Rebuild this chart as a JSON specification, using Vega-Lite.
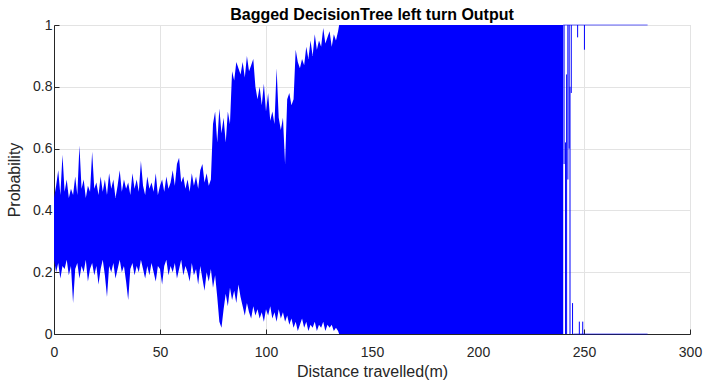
{
  "$schema": "https://vega.github.io/schema/vega-lite/v6.json",
  "width": 636,
  "height": 309,
  "autosize": {"type": "none"},
  "padding": {"left": 54, "top": 25, "right": 16, "bottom": 50},
  "title": {"text": "Bagged DecisionTree left turn Output", "fontSize": 16, "fontWeight": "bold", "font": "Liberation Sans", "color": "#000000", "offset": 4, "dy": 9, "anchor": "middle"},
  "config": {
    "view": {"stroke": "#d9d9d9", "strokeWidth": 1},
    "axis": {
      "domainColor": "#262626", "tickColor": "#262626", "gridColor": "#e3e3e3",
      "labelFont": "Liberation Sans", "labelFontSize": 14, "labelColor": "#262626", "labelFlush": false,
      "titleFont": "Liberation Sans", "titleFontSize": 16, "titleColor": "#262626", "titleFontWeight": "normal",
      "tickSize": -5
    }
  },
  "datasets": {
    "band": [
      {"x":0,"hi":0.44,"lo":0.24},{"x":1,"hi":0.48,"lo":0.20},{"x":2,"hi":0.53,"lo":0.23},{"x":3,"hi":0.45,"lo":0.18},{"x":4,"hi":0.58,"lo":0.22},
      {"x":5,"hi":0.46,"lo":0.21},{"x":6,"hi":0.50,"lo":0.24},{"x":7,"hi":0.44,"lo":0.19},{"x":8,"hi":0.47,"lo":0.22},{"x":9,"hi":0.45,"lo":0.10},
      {"x":10,"hi":0.51,"lo":0.21},{"x":11,"hi":0.45,"lo":0.23},{"x":12,"hi":0.61,"lo":0.18},{"x":13,"hi":0.47,"lo":0.22},{"x":14,"hi":0.50,"lo":0.20},
      {"x":15,"hi":0.44,"lo":0.24},{"x":16,"hi":0.48,"lo":0.17},{"x":17,"hi":0.46,"lo":0.21},{"x":18,"hi":0.59,"lo":0.23},{"x":19,"hi":0.47,"lo":0.19},
      {"x":20,"hi":0.49,"lo":0.22},{"x":21,"hi":0.45,"lo":0.16},{"x":22,"hi":0.51,"lo":0.21},{"x":23,"hi":0.46,"lo":0.24},{"x":24,"hi":0.50,"lo":0.19},
      {"x":25,"hi":0.45,"lo":0.12},{"x":26,"hi":0.52,"lo":0.22},{"x":27,"hi":0.47,"lo":0.20},{"x":28,"hi":0.50,"lo":0.23},{"x":29,"hi":0.44,"lo":0.18},
      {"x":30,"hi":0.48,"lo":0.21},{"x":31,"hi":0.53,"lo":0.24},{"x":32,"hi":0.46,"lo":0.20},{"x":33,"hi":0.50,"lo":0.22},{"x":34,"hi":0.47,"lo":0.17},
      {"x":35,"hi":0.49,"lo":0.11},{"x":36,"hi":0.45,"lo":0.21},{"x":37,"hi":0.52,"lo":0.23},{"x":38,"hi":0.47,"lo":0.19},{"x":39,"hi":0.50,"lo":0.22},
      {"x":40,"hi":0.46,"lo":0.20},{"x":41,"hi":0.56,"lo":0.24},{"x":42,"hi":0.48,"lo":0.21},{"x":43,"hi":0.45,"lo":0.18},{"x":44,"hi":0.51,"lo":0.22},
      {"x":45,"hi":0.47,"lo":0.19},{"x":46,"hi":0.49,"lo":0.23},{"x":47,"hi":0.46,"lo":0.20},{"x":48,"hi":0.52,"lo":0.17},{"x":49,"hi":0.45,"lo":0.22},
      {"x":50,"hi":0.48,"lo":0.21},{"x":51,"hi":0.50,"lo":0.16},{"x":52,"hi":0.46,"lo":0.22},{"x":53,"hi":0.51,"lo":0.24},{"x":54,"hi":0.47,"lo":0.19},
      {"x":55,"hi":0.49,"lo":0.22},{"x":56,"hi":0.53,"lo":0.20},{"x":57,"hi":0.48,"lo":0.23},{"x":58,"hi":0.55,"lo":0.18},{"x":59,"hi":0.57,"lo":0.21},
      {"x":60,"hi":0.49,"lo":0.24},{"x":61,"hi":0.51,"lo":0.19},{"x":62,"hi":0.47,"lo":0.22},{"x":63,"hi":0.50,"lo":0.20},{"x":64,"hi":0.46,"lo":0.17},
      {"x":65,"hi":0.52,"lo":0.23},{"x":66,"hi":0.48,"lo":0.19},{"x":67,"hi":0.51,"lo":0.21},{"x":68,"hi":0.47,"lo":0.16},{"x":69,"hi":0.53,"lo":0.22},
      {"x":70,"hi":0.55,"lo":0.18},{"x":71,"hi":0.49,"lo":0.14},{"x":72,"hi":0.52,"lo":0.20},{"x":73,"hi":0.48,"lo":0.17},{"x":74,"hi":0.50,"lo":0.21},
      {"x":75,"hi":0.68,"lo":0.15},{"x":76,"hi":0.72,"lo":0.19},{"x":77,"hi":0.62,"lo":0.12},{"x":78,"hi":0.73,"lo":0.04},{"x":79,"hi":0.65,"lo":0.02},
      {"x":80,"hi":0.70,"lo":0.08},{"x":81,"hi":0.62,"lo":0.13},{"x":82,"hi":0.72,"lo":0.09},{"x":83,"hi":0.68,"lo":0.15},{"x":84,"hi":0.85,"lo":0.11},
      {"x":85,"hi":0.82,"lo":0.14},{"x":86,"hi":0.88,"lo":0.10},{"x":87,"hi":0.86,"lo":0.16},{"x":88,"hi":0.84,"lo":0.12},{"x":89,"hi":0.88,"lo":0.09},
      {"x":90,"hi":0.83,"lo":0.06},{"x":91,"hi":0.90,"lo":0.10},{"x":92,"hi":0.85,"lo":0.07},{"x":93,"hi":0.87,"lo":0.05},{"x":94,"hi":0.89,"lo":0.09},
      {"x":95,"hi":0.80,"lo":0.06},{"x":96,"hi":0.76,"lo":0.08},{"x":97,"hi":0.80,"lo":0.05},{"x":98,"hi":0.74,"lo":0.07},{"x":99,"hi":0.81,"lo":0.04},
      {"x":100,"hi":0.72,"lo":0.08},{"x":101,"hi":0.78,"lo":0.06},{"x":102,"hi":0.69,"lo":0.09},{"x":103,"hi":0.72,"lo":0.05},{"x":104,"hi":0.68,"lo":0.07},
      {"x":105,"hi":0.86,"lo":0.04},{"x":106,"hi":0.70,"lo":0.08},{"x":107,"hi":0.66,"lo":0.05},{"x":108,"hi":0.70,"lo":0.07},{"x":109,"hi":0.55,"lo":0.04},
      {"x":110,"hi":0.76,"lo":0.06},{"x":111,"hi":0.78,"lo":0.03},{"x":112,"hi":0.74,"lo":0.05},{"x":113,"hi":0.76,"lo":0.02},{"x":114,"hi":0.92,"lo":0.04},
      {"x":115,"hi":0.88,"lo":0.01},{"x":116,"hi":0.86,"lo":0.03},{"x":117,"hi":0.89,"lo":0.05},{"x":118,"hi":0.87,"lo":0.02},{"x":119,"hi":0.93,"lo":0.04},
      {"x":120,"hi":0.89,"lo":0.01},{"x":121,"hi":0.95,"lo":0.03},{"x":122,"hi":0.90,"lo":0.02},{"x":123,"hi":0.97,"lo":0.04},{"x":124,"hi":0.92,"lo":0.01},
      {"x":125,"hi":0.95,"lo":0.03},{"x":126,"hi":0.93,"lo":0.02},{"x":127,"hi":0.99,"lo":0.04},{"x":128,"hi":0.94,"lo":0.01},{"x":129,"hi":0.96,"lo":0.03},
      {"x":130,"hi":0.98,"lo":0.02},{"x":131,"hi":0.93,"lo":0.03},{"x":132,"hi":0.97,"lo":0.01},{"x":133,"hi":0.95,"lo":0.02},{"x":134,"hi":0.98,"lo":0.01},
      {"x":134.5,"hi":1,"lo":0},{"x":240.2,"hi":1,"lo":0}
    ],
    "spikes": [
      {"x":240.6,"a":1,"b":0.55},{"x":241.3,"a":0,"b":0.62},{"x":241.8,"a":0,"b":0.84},{"x":242.4,"a":1,"b":0.5},
      {"x":243.0,"a":1,"b":0.6},{"x":243.4,"a":0,"b":0.80},{"x":244.0,"a":1,"b":0.78},{"x":244.6,"a":0,"b":0.10},
      {"x":247.0,"a":1,"b":0.96},{"x":247.8,"a":0,"b":0.04},{"x":249.4,"a":0,"b":0.04},{"x":250.2,"a":1,"b":0.92}
    ],
    "tails": [
      {"x":240.2,"x2":280,"y":1},{"x":245,"x2":280,"y":0}
    ]
  },
  "layer": [
    {
      "data": {"name": "band"},
      "mark": {"type": "area", "color": "#0000ff", "opacity": 1, "clip": true},
      "encoding": {
        "x": {"field": "x", "type": "quantitative", "scale": {"domain": [0, 300], "nice": false}, "title": "Distance travelled(m)",
              "axis": {"values": [0,50,100,150,200,250,300], "labelPadding": 16, "titlePadding": 4, "grid": true}},
        "y": {"field": "hi", "type": "quantitative", "scale": {"domain": [0, 1], "nice": false}, "title": "Probability",
              "axis": {"values": [0,0.2,0.4,0.6,0.8,1], "format": "~g", "labelPadding": 7, "titlePadding": 10, "grid": true}},
        "y2": {"field": "lo"}
      }
    },
    {
      "data": {"name": "spikes"},
      "mark": {"type": "rule", "color": "#0000ff", "strokeWidth": 1},
      "encoding": {
        "x": {"field": "x", "type": "quantitative"},
        "y": {"field": "a", "type": "quantitative"},
        "y2": {"field": "b"}
      }
    },
    {
      "data": {"name": "tails"},
      "mark": {"type": "rule", "color": "#0000ff", "strokeWidth": 1, "opacity": 0.6},
      "encoding": {
        "x": {"field": "x", "type": "quantitative"},
        "x2": {"field": "x2"},
        "y": {"field": "y", "type": "quantitative"}
      }
    }
  ]
}
